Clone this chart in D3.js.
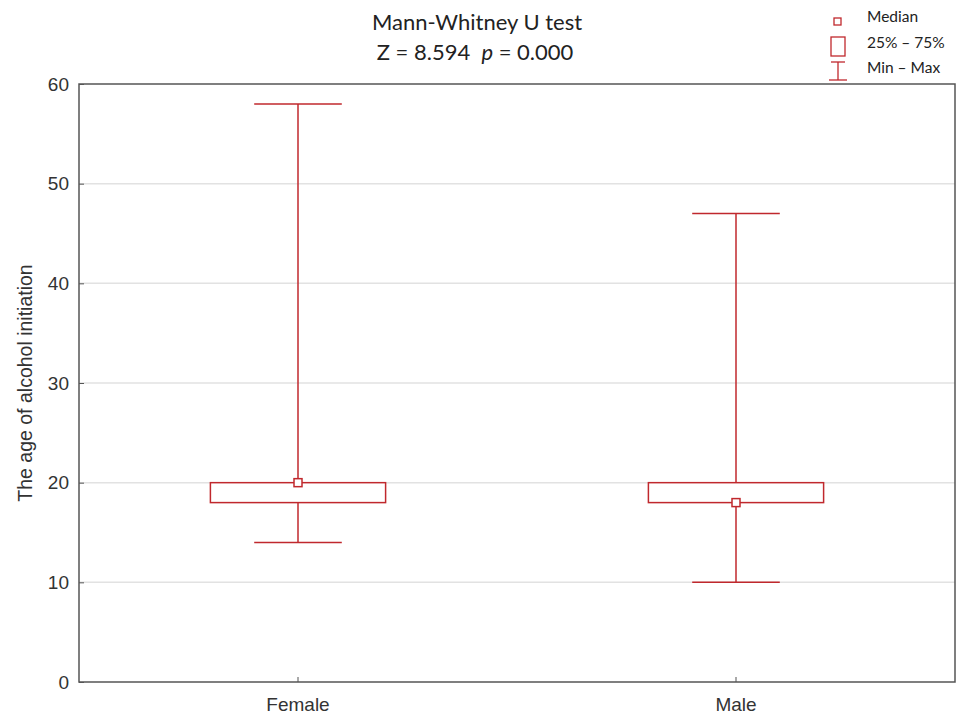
<!DOCTYPE html>
<html><head><meta charset="utf-8">
<script src="https://cdn.jsdelivr.net/npm/d3@7"></script>
<style>body{margin:0;background:#fff;} svg{display:block;}</style>
</head><body>
<svg id="c" width="958" height="717"></svg>
<script>
const categories = ["Female", "Male"];
const minVals = [14, 10];
const q1Vals = [18, 18];
const medianVals = [20, 18];
const q3Vals = [20, 20];
const maxVals = [58, 47];
const yTicks = [0, 10, 20, 30, 40, 50, 60];

const red = "#c0282d";
const svg = d3.select("#c");
const L = 79, R = 955, T = 84, B = 682;
const x = d3.scaleBand().domain(categories).range([L, R]).paddingInner(0).paddingOuter(0);
const y = d3.scaleLinear().domain([0, 60]).range([B, T]);
const step = x.step();
const af = "'Liberation Sans', Arial, sans-serif";

// grid
svg.append("g").selectAll("line").data(yTicks.filter(d => d > 0 && d < 60)).join("line")
  .attr("x1", L).attr("x2", R).attr("y1", d => y(d)).attr("y2", d => y(d))
  .attr("stroke", "#e2e2e2").attr("stroke-width", 1.5);

// frame
svg.append("rect").attr("x", L).attr("y", T).attr("width", R - L).attr("height", B - T)
  .attr("fill", "none").attr("stroke", "#555").attr("stroke-width", 1.5);

// axes
const ya = svg.append("g").attr("transform", `translate(${L},0)`)
  .call(d3.axisLeft(y).tickValues(yTicks).tickSize(-5).tickPadding(10));
ya.select(".domain").remove();
ya.selectAll("line").attr("stroke", "#555");
ya.selectAll("text").attr("font-family", af).attr("font-size", 19).attr("fill", "#333");

const xa = svg.append("g").attr("transform", `translate(0,${B})`)
  .call(d3.axisBottom(x).tickSize(-5).tickPadding(16));
xa.select(".domain").remove();
xa.selectAll("line").attr("stroke", "#555");
xa.selectAll("text").attr("font-family", af).attr("font-size", 19).attr("fill", "#333");

// boxes
const data = categories.map((c, i) => ({c, min: minVals[i], q1: q1Vals[i], med: medianVals[i], q3: q3Vals[i], max: maxVals[i]}));
const g = svg.append("g").attr("stroke", red).attr("fill", "none").attr("stroke-width", 1.5);
const bw = step * 0.4, cw = step * 0.2;
data.forEach(d => {
  const cx = x(d.c) + step / 2;
  g.append("line").attr("x1", cx).attr("x2", cx).attr("y1", y(d.max)).attr("y2", y(d.q3));
  g.append("line").attr("x1", cx).attr("x2", cx).attr("y1", y(d.q1)).attr("y2", y(d.min));
  g.append("line").attr("x1", cx - cw / 2).attr("x2", cx + cw / 2).attr("y1", y(d.max)).attr("y2", y(d.max));
  g.append("line").attr("x1", cx - cw / 2).attr("x2", cx + cw / 2).attr("y1", y(d.min)).attr("y2", y(d.min));
  g.append("rect").attr("x", cx - bw / 2).attr("width", bw).attr("y", y(d.q3)).attr("height", y(d.q1) - y(d.q3)).attr("fill", "#fff");
  g.append("rect").attr("x", cx - 4).attr("y", y(d.med) - 4).attr("width", 8).attr("height", 8).attr("fill", "#fff");
});

// title
const tf = "Lato, 'Open Sans', sans-serif";
svg.append("text").attr("x", 477).attr("y", 30).attr("text-anchor", "middle")
  .attr("font-family", tf).attr("font-size", 22).attr("fill", "#222").text("Mann-Whitney U test");
const t2 = svg.append("text").attr("x", 475).attr("y", 60).attr("text-anchor", "middle")
  .attr("font-family", tf).attr("font-size", 22).attr("fill", "#222").attr("xml:space", "preserve");
t2.append("tspan").text("Z = 8.594\u00a0\u00a0");
t2.append("tspan").attr("font-style", "italic").text("p");
t2.append("tspan").text(" = 0.000");

// y label
svg.append("text").attr("transform", `translate(32,${(T + B) / 2}) rotate(-90)`).attr("text-anchor", "middle")
  .attr("font-family", af).attr("font-size", 19.5).attr("fill", "#333")
  .text("The age of alcohol initiation");

// legend
const lg = svg.append("g");
lg.append("rect").attr("x", 834).attr("y", 18).attr("width", 7).attr("height", 7).attr("fill", "none").attr("stroke", red).attr("stroke-width", 1.3);
lg.append("rect").attr("x", 831).attr("y", 37).attr("width", 14).attr("height", 19).attr("fill", "none").attr("stroke", red).attr("stroke-width", 1.3);
lg.append("line").attr("x1", 838).attr("x2", 838).attr("y1", 62).attr("y2", 80).attr("stroke", red).attr("stroke-width", 1.3);
lg.append("line").attr("x1", 831).attr("x2", 845).attr("y1", 62).attr("y2", 62).attr("stroke", red).attr("stroke-width", 1.3);
lg.append("line").attr("x1", 829).attr("x2", 847).attr("y1", 80).attr("y2", 80).attr("stroke", red).attr("stroke-width", 1.3);
const legTexts = ["Median", "25% \u2013 75%", "Min \u2013 Max"];
lg.selectAll("text").data(legTexts).join("text")
  .attr("x", 867).attr("y", (d, i) => 22 + i * 25.5).attr("font-family", tf).attr("font-size", 15.5).attr("fill", "#222")
  .text(d => d);
</script>
</body></html>
